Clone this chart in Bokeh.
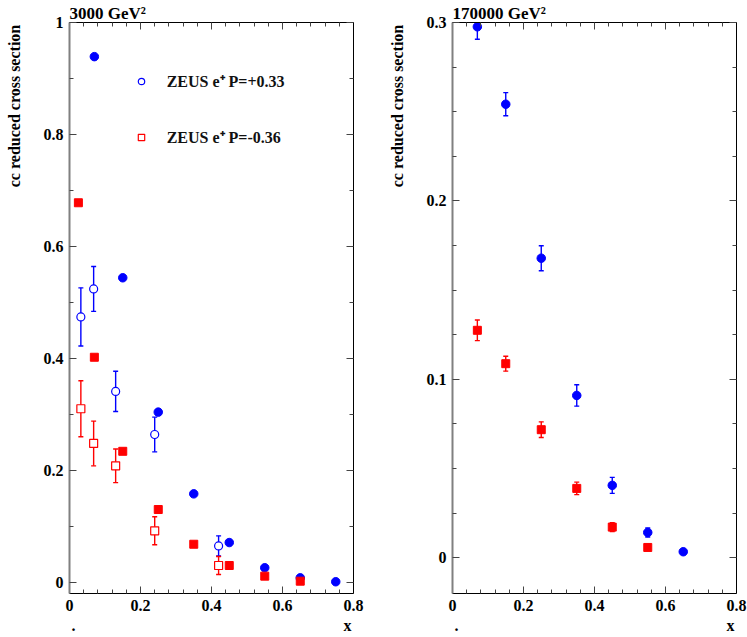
from bokeh.plotting import figure
from bokeh.models import (Range1d, LinearAxis, FixedTicker, ColumnDataSource, Title,
                          Legend, LegendItem, NumeralTickFormatter)
from bokeh.layouts import row
from bokeh.embed import file_html
from bokeh.resources import INLINE

# ---------------- data ----------------
# Q2 = 3000 GeV^2 panel
l_title = "3000 GeV²"
l_pos_pred_x = [0.07, 0.15, 0.25, 0.35, 0.45, 0.55, 0.65, 0.75]
l_pos_pred_y = [0.939, 0.544, 0.304, 0.158, 0.071, 0.026, 0.008, 0.001]
l_neg_pred_x = [0.025, 0.07, 0.15, 0.25, 0.35, 0.45, 0.55, 0.65]
l_neg_pred_y = [0.678, 0.402, 0.234, 0.130, 0.068, 0.030, 0.011, 0.002]
l_data_x = [0.032, 0.068, 0.13, 0.24, 0.42]
l_pos_data_y = [0.474, 0.524, 0.341, 0.264, 0.065]
l_pos_data_err = [0.052, 0.040, 0.036, 0.031, 0.018]
l_neg_data_y = [0.310, 0.248, 0.208, 0.092, 0.030]
l_neg_data_err = [0.050, 0.040, 0.030, 0.025, 0.016]
l_yticks = [0, 0.2, 0.4, 0.6, 0.8, 1.0]
l_yminor = [0.1, 0.3, 0.5, 0.7, 0.9]

# Q2 = 170000 GeV^2 panel
r_title = "170000 GeV²"
r_pos_x = [0.07, 0.15, 0.25, 0.35, 0.45, 0.55, 0.65]
r_pos_y = [0.2976, 0.2542, 0.1679, 0.0910, 0.0406, 0.0142, 0.0034]
r_pos_err = [0.0070, 0.0065, 0.0070, 0.0060, 0.0045, 0.0025, 0.0010]
r_neg_x = [0.07, 0.15, 0.25, 0.35, 0.45, 0.55]
r_neg_y = [0.1275, 0.1088, 0.0718, 0.0389, 0.0172, 0.0058]
r_neg_err = [0.0058, 0.0042, 0.0044, 0.0035, 0.0025, 0.0010]
r_yticks = [0, 0.1, 0.2, 0.3]
r_yminor = [0.025, 0.05, 0.075, 0.125, 0.15, 0.175, 0.225, 0.25, 0.275]

x_ticks = [0, 0.2, 0.4, 0.6, 0.8]
x_minor = [i * 0.04 for i in range(21) if i % 5 != 0]

leg_labels = ["ZEUS e\u207a P=+0.33", "ZEUS e\u207a P=-0.36"]
y_label = "cc reduced cross section"
x_label_left = "."
x_label_right = "x"

BLUE = "#0000ff"
RED = "#ff0000"
FONT = "Liberation Serif"
NB = "\u00a0"

FW, FH = 284, 571


def style_axis(ax, ticks, minor, show_labels, line_color="black", line_width=1):
    ax.ticker = FixedTicker(ticks=ticks, minor_ticks=minor)
    ax.formatter = NumeralTickFormatter(format="0.[0]")
    ax.major_tick_in = 7
    ax.major_tick_out = 0
    ax.minor_tick_in = 4
    ax.minor_tick_out = 0
    ax.major_tick_line_color = "#444444"
    ax.minor_tick_line_color = "#444444"
    ax.axis_line_color = line_color
    ax.axis_line_width = line_width
    if show_labels:
        ax.major_label_text_font = FONT
        ax.major_label_text_font_style = "bold"
        ax.major_label_text_font_size = "16px"
        ax.major_label_text_color = "black"
        ax.major_label_standoff = 6
    else:
        # mirrored axis: ticks only, no labels drawn
        ax.major_label_text_font_size = "0px"
        ax.major_label_text_color = None
        ax.major_label_standoff = 0
    ax.axis_label_text_font = FONT
    ax.axis_label_text_font_style = "bold"
    ax.axis_label_text_font_size = "16px"
    ax.axis_label_text_color = "black"


def make_fig(ymax, yticks, yminor, title, border_right):
    p = figure(frame_width=FW, frame_height=FH,
               x_range=Range1d(0, 0.8), y_range=Range1d(-0.02, ymax),
               output_backend="svg", toolbar_location=None,
               min_border_left=69, min_border_right=border_right,
               min_border_top=22, min_border_bottom=44,
               background_fill_color="white", border_fill_color="white")
    p.outline_line_color = None
    p.xgrid.visible = False
    p.ygrid.visible = False
    xa = p.xaxis[0]
    ya = p.yaxis[0]
    style_axis(xa, x_ticks, x_minor, True)
    style_axis(ya, yticks, yminor, True, line_color="#808080", line_width=2)
    top = LinearAxis()
    style_axis(top, x_ticks, x_minor, False)
    p.add_layout(top, "above")
    right = LinearAxis()
    style_axis(right, yticks, yminor, False)
    p.add_layout(right, "right")

    # y label, aligned to the top of the frame
    ya.axis_label_standoff = 18
    try:
        ya.axis_label_align = "right"
        ya.axis_label = y_label
    except Exception:
        ya.axis_label = NB * 101 + y_label
    # x label: "." at the left end and "x" at the right end
    xa.axis_label_standoff = 3
    xa.axis_label = x_label_left + NB * 67 + x_label_right

    p.add_layout(Title(text=title, align="left", standoff=0, offset=0,
                       text_font=FONT, text_font_style="bold", text_font_size="17px",
                       text_color="black"), "above")
    return p


def add_errors(p, xs, ys, errs, color):
    src = ColumnDataSource(dict(x=xs, lo=[y - e for y, e in zip(ys, errs)],
                                hi=[y + e for y, e in zip(ys, errs)]))
    p.segment(x0="x", y0="lo", x1="x", y1="hi", source=src, line_color=color, line_width=1.4)
    p.scatter(x="x", y="lo", source=src, marker="dash", size=5, line_color=color, line_width=1.4)
    p.scatter(x="x", y="hi", source=src, marker="dash", size=5, line_color=color, line_width=1.4)


# ---------------- left panel ----------------
p1 = make_fig(1.0, l_yticks, l_yminor, l_title, 30)
add_errors(p1, l_data_x, l_pos_data_y, l_pos_data_err, BLUE)
r_open_c = p1.scatter(l_data_x, l_pos_data_y, marker="circle", size=8,
                      fill_color="white", line_color=BLUE, line_width=1.2)
add_errors(p1, l_data_x, l_neg_data_y, l_neg_data_err, RED)
r_open_s = p1.scatter(l_data_x, l_neg_data_y, marker="square", size=8,
                      fill_color="white", line_color=RED, line_width=1.2)
p1.scatter(l_pos_pred_x, l_pos_pred_y, marker="circle", size=8.5,
           fill_color=BLUE, line_color=BLUE)
p1.scatter(l_neg_pred_x, l_neg_pred_y, marker="square", size=8,
           fill_color=RED, line_color=RED)

legend = Legend(items=[LegendItem(label=leg_labels[0], renderers=[r_open_c]),
                       LegendItem(label=leg_labels[1], renderers=[r_open_s])],
                location=(63.7, 445.5), padding=0, margin=0, spacing=34,
                glyph_width=16, glyph_height=16, label_height=16, label_standoff=18,
                border_line_color=None, background_fill_alpha=0,
                label_text_font=FONT, label_text_font_style="bold",
                label_text_font_size="16px", label_text_color="#111111")
p1.add_layout(legend, "center")

# ---------------- right panel ----------------
p2 = make_fig(0.3, r_yticks, r_yminor, r_title, 11)
add_errors(p2, r_pos_x, r_pos_y, r_pos_err, BLUE)
add_errors(p2, r_neg_x, r_neg_y, r_neg_err, RED)
p2.scatter(r_pos_x, r_pos_y, marker="circle", size=8.5, fill_color=BLUE, line_color=BLUE)
p2.scatter(r_neg_x, r_neg_y, marker="square", size=8, fill_color=RED, line_color=RED)

layout = row(p1, p2)
open("out.html", "w").write(file_html(layout, INLINE))
